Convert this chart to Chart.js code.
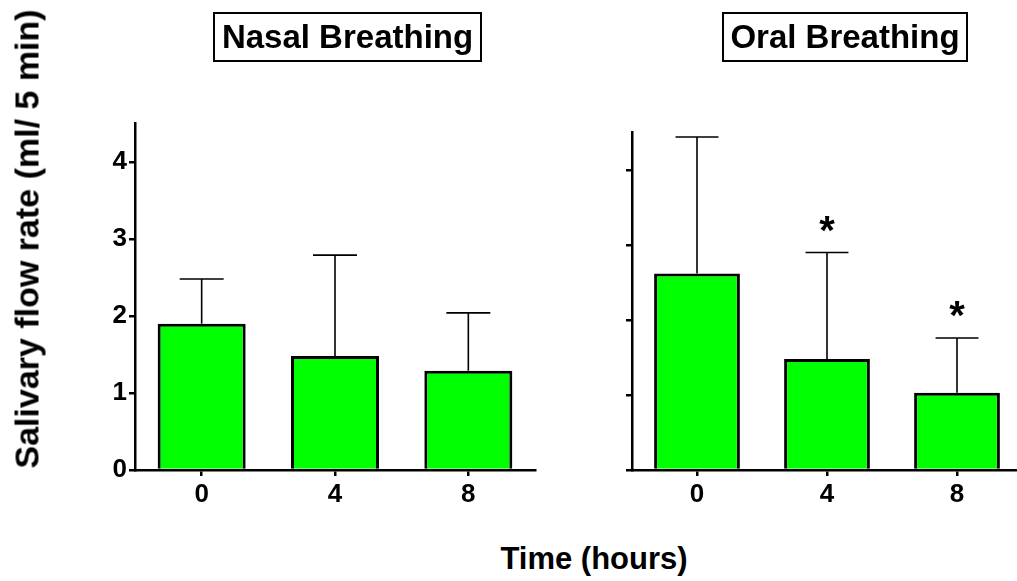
<!DOCTYPE html>
<html>
<head>
<meta charset="utf-8">
<script src="https://cdn.jsdelivr.net/npm/chart.js@4.4.1/dist/chart.umd.min.js"></script>
<style>
  html, body { margin: 0; padding: 0; background: #fff; overflow: hidden; width: 1017px; height: 581px; }
  body { position: relative; font-family: "Liberation Sans", Arial, Helvetica, sans-serif; }
  .cv { position: absolute; top: 0; }
  .box { position: absolute; border: 2px solid #000; box-sizing: border-box; font-weight: bold; font-size: 33px; color: #000; display: flex; align-items: center; justify-content: center; white-space: nowrap; }
  .ttl { position: absolute; font-weight: bold; color: #000; white-space: nowrap; }
</style>
</head>
<body>
<div id="leftWrap" class="cv" style="left:0px;width:545px;height:520px;"><canvas id="left"></canvas></div>
<div id="rightWrap" class="cv" style="left:560px;width:470px;height:520px;"><canvas id="right"></canvas></div>
<div class="box" style="left:213px;top:12px;width:269px;height:50px;">Nasal Breathing</div>
<div class="box" style="left:722px;top:12px;width:246px;height:50px;">Oral Breathing</div>
<div class="ttl" id="xt" style="font-size:31px;left:594px;top:559px;transform:translate(-50%,-50%);">Time (hours)</div>
<div class="ttl" id="yt" style="font-size:34px;left:27px;top:239px;transform:translate(-50%,-50%) rotate(-90deg);">Salivary flow rate (ml/ 5 min)</div>
<script>
// ---- data ----
const categories = ['0', '4', '8'];
const nasalMean = [1.90, 1.48, 1.29];
const nasalSD   = [0.58, 1.31, 0.75];
const oralMean  = [2.62, 1.48, 1.03];
const oralSD    = [1.82, 1.42, 0.73];
const nasalSig  = ['', '', ''];
const oralSig   = ['', '*', '*'];
const yTicks    = [0, 1, 2, 3, 4];
const yMax      = 4.5;

const FONT = '"Liberation Sans", Arial, Helvetica, sans-serif';

const errorBars = {
  id: 'errorBars',
  afterDatasetsDraw(chart, args, opts) {
    const ctx = chart.ctx;
    const ys = chart.scales.y;
    const meta = chart.getDatasetMeta(0);
    const means = opts.means, sds = opts.sds, sig = opts.sig;
    ctx.save();
    ctx.strokeStyle = '#000';
    ctx.lineWidth = 1.6;
    meta.data.forEach((bar, i) => {
      const x = bar.x;
      const w = bar.width;
      const yM = ys.getPixelForValue(means[i]);
      const yT = ys.getPixelForValue(means[i] + sds[i]);
      ctx.beginPath();
      ctx.moveTo(x, yM);
      ctx.lineTo(x, yT);
      ctx.moveTo(x - w / 4, yT);
      ctx.lineTo(x + w / 4, yT);
      ctx.stroke();
      if (sig[i]) {
        ctx.fillStyle = '#000';
        ctx.font = 'bold 40px ' + FONT;
        ctx.textAlign = 'center';
        ctx.textBaseline = 'alphabetic';
        ctx.fillText(sig[i], x, yT - 9);
      }
    });
    ctx.restore();
  }
};

function makeChart(id, means, sds, sig, yAxisWidth, padTop, padRight, showLabels) {
  return new Chart(document.getElementById(id), {
    type: 'bar',
    data: {
      labels: categories,
      datasets: [{
        data: means,
        backgroundColor: '#00FF00',
        borderColor: '#000',
        borderWidth: 3,
        borderSkipped: 'start',
        barPercentage: 0.66,
        categoryPercentage: 1.0
      }]
    },
    options: {
      responsive: true,
      maintainAspectRatio: false,
      animation: false,
      events: [],
      layout: { padding: { top: padTop, right: padRight, left: 0, bottom: 0 } },
      plugins: {
        legend: { display: false },
        tooltip: { enabled: false },
        title: { display: false },
        errorBars: { means: means, sds: sds, sig: sig }
      },
      scales: {
        x: {
          offset: true,
          grid: { display: true, drawOnChartArea: false, drawTicks: true, tickLength: 6, color: '#000', lineWidth: 2.5, offset: false },
          border: { display: true, color: '#000', width: 2.5 },
          ticks: { color: '#000', font: { family: FONT, size: 26, weight: 'bold' }, padding: 3, maxRotation: 0 },
          afterFit(s) { s.height = 50; }
        },
        y: {
          min: 0,
          max: yMax,
          grid: { display: true, drawOnChartArea: false, drawTicks: true, tickLength: 6, color: '#000', lineWidth: 2.5 },
          border: { display: true, color: '#000', width: 2.5 },
          afterBuildTicks(s) { s.ticks = yTicks.map(v => ({ value: v })); },
          ticks: {
            color: '#000',
            font: { family: FONT, size: 26, weight: 'bold' },
            padding: 2,
            callback: (v) => showLabels ? String(v) : ''
          },
          afterFit(s) { s.width = yAxisWidth; }
        }
      }
    },
    plugins: [errorBars]
  });
}

makeChart('left', nasalMean, nasalSD, nasalSig, 135, 123.5, 10, true);
makeChart('right', oralMean, oralSD, oralSig, 72, 132.5, 8, false);
</script>
</body>
</html>
